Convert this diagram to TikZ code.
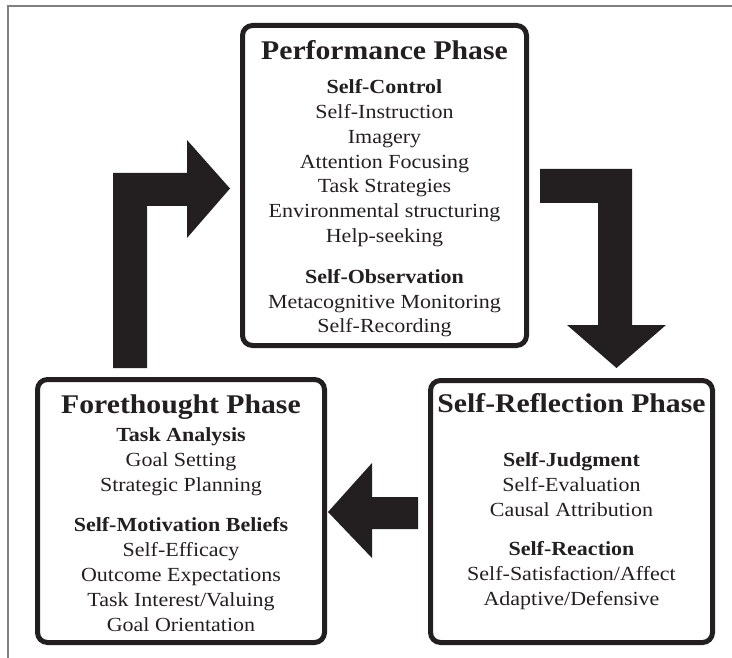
\documentclass[tikz,border=0pt]{standalone}
\usepackage{fontspec}
\setmainfont{Liberation Serif}[FakeStretch=1.1]
\usepackage{xcolor}
\usetikzlibrary{positioning}

\definecolor{ink}{RGB}{35,31,32}

\begin{document}
\begin{tikzpicture}[
    x=1pt, y=-1pt,
    phase/.style={
        draw=ink,
        line width=5pt,
        rounded corners=10pt,
        inner sep=0pt
    },
    title/.style={
        font=\fontsize{27}{30}\selectfont\bfseries,
        text=ink,
        anchor=base,
        inner sep=0pt
    },
    items/.style={
        font=\fontsize{20}{24.8}\selectfont,
        text=ink,
        align=center,
        anchor=north,
        inner sep=0pt
    },
    bigarrow/.style={fill=ink}
]
\useasboundingbox (0,0) rectangle (732,658);

% outer frame
\draw[gray, line width=1.2pt] (732,6) -- (8,6) -- (8,658);

% the three phases
\node[phase, minimum width=284pt, minimum height=320pt] (perf) at (384.5,185.5) {};
\node[phase, minimum width=287pt, minimum height=263pt] (fore) at (181,511) {};
\node[phase, minimum width=282pt, minimum height=262pt] (refl) at (571.5,511.5) {};

\node[title] (perftitle) at (perf.center |- 0,60) {Performance Phase};
\node[title] (foretitle) at (fore.center |- 0,413) {Forethought Phase};
\node[title] (refltitle) at (refl.center |- 0,412) {Self-Reflection Phase};

\node[items] (perfitems) at (perf.center |- 0,79.5) {\textbf{Self-Control}\\
    Self-Instruction\\ Imagery\\ Attention Focusing\\ Task Strategies\\
    Environmental structuring\\ Help-seeking\\[16pt]
    \textbf{Self-Observation}\\ Metacognitive Monitoring\\ Self-Recording};

\node[items] (foreitems) at (fore.center |- 0,427.5) {\textbf{Task Analysis}\\
    Goal Setting\\ Strategic Planning\\[16pt]
    \textbf{Self-Motivation Beliefs}\\ Self-Efficacy\\ Outcome Expectations\\
    Task Interest/Valuing\\ Goal Orientation};

\node[items] (reflitems) at (refl.center |- 0,452.5) {\textbf{Self-Judgment}\\
    Self-Evaluation\\ Causal Attribution\\[14.5pt]
    \textbf{Self-Reaction}\\ Self-Satisfaction/Affect\\ Adaptive/Defensive};

% block arrows of the cycle
\fill[bigarrow] (113,368) -- (113,173) -- (187,173) -- (187,140) -- (230,188.5)
    -- (187,238) -- (187,206) -- (147,206) -- (147,368) -- cycle;
\fill[bigarrow] (540,169) -- (632,169) -- (632,325) -- (666,325) -- (616.5,368)
    -- (567,325) -- (598,325) -- (598,203) -- (540,203) -- cycle;
\fill[bigarrow] (418,497) -- (372,497) -- (372,463) -- (328,512)
    -- (372,558) -- (372,529) -- (418,529) -- cycle;

\end{tikzpicture}
\end{document}
